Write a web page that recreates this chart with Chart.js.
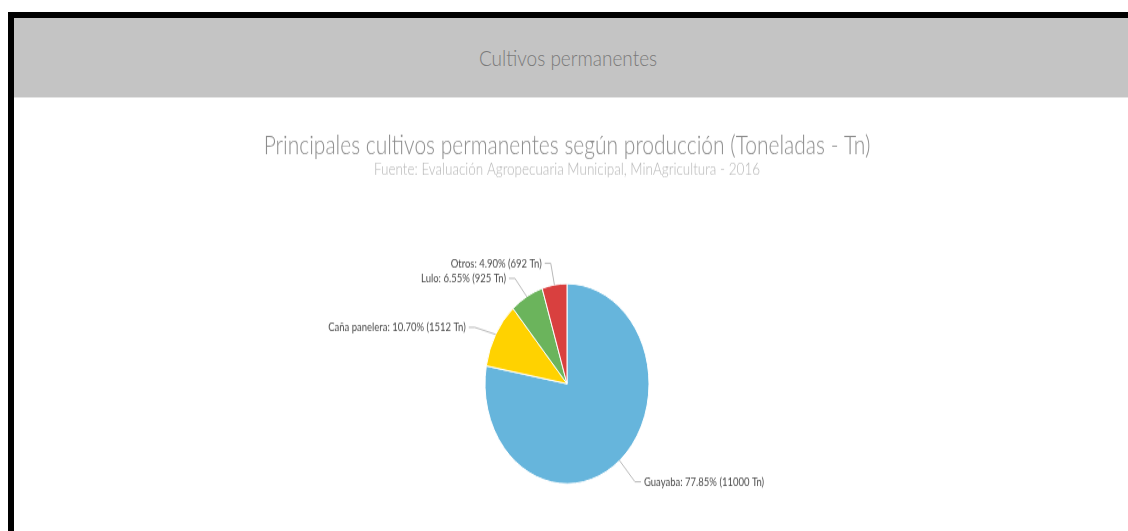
<!DOCTYPE html>
<html>
<head>
<meta charset="utf-8">
<script src="https://cdn.jsdelivr.net/npm/chart.js@4.4.1/dist/chart.umd.min.js"></script>
<style>
    body { margin: 0; background: #fff; width: 1128px; height: 531px; overflow: hidden; position: relative; }
    #frame { position: absolute; left: 8px; top: 12px; width: 1114px; height: 513px; border-left: 6px solid #000; border-top: 6px solid #000; background: #fff; }
    #header { height: 79px; background: #c4c4c4; color: #7a7a7a; font-family: Lato, "Open Sans", sans-serif; font-weight: 300;
              font-size: 19px; text-align: center; line-height: 79px; border-bottom: 1px solid #e4e4e4; }
    #header span { display: inline-block; transform: scaleY(1.12); position: relative; left: -3px; }
    #wrap { position: absolute; left: 0; top: 80px; width: 1114px; height: 356px; transform: scaleY(1.22); transform-origin: 0 0; }
</style>
</head>
<body>
<div id="frame">
    <div id="header"><span>Cultivos permanentes</span></div>
    <div id="wrap"><canvas id="grafic" width="1114" height="356"></canvas></div>
</div>
<script>
const categories = ['Guayaba', 'Caña panelera', 'Lulo', 'Otros'];
const tons = [11000, 1512, 925, 692];
const colors = ['#66b5dc', '#ffd200', '#6bb45c', '#d9403f'];

const total = tons.reduce((a, b) => a + b, 0);

// etiquetas afuera con linea, estilo highcharts
const outLabels = {
    id: 'outLabels',
    afterDatasetsDraw(chart) {
        const ctx = chart.ctx;
        const arcs = chart.getDatasetMeta(0).data;
        ctx.save();
        ctx.font = '9.5px Lato, "Open Sans", sans-serif';
        ctx.textBaseline = 'middle';
        arcs.forEach((arc, i) => {
            const p = arc.getProps(['x', 'y', 'startAngle', 'endAngle', 'outerRadius']);
            const mid = (p.startAngle + p.endAngle) / 2;
            const cos = Math.cos(mid), sin = Math.sin(mid);
            const x0 = p.x + cos * p.outerRadius, y0 = p.y + sin * p.outerRadius;
            const d = p.outerRadius + 24;
            const x1 = p.x + cos * d, y1 = p.y + sin * d + (cos < 0 && sin < 0 ? 6 : -1);
            const right = cos >= 0;
            const x2 = x1 + (right ? 6 : -6);
            ctx.strokeStyle = '#b8b8b8';
            ctx.lineWidth = 1;
            ctx.beginPath();
            ctx.moveTo(x0, y0);
            ctx.lineTo(x1, y1);
            ctx.lineTo(x2, y1);
            ctx.stroke();
            const pct = (tons[i] / total * 100).toFixed(2);
            const txt = categories[i] + ': ' + pct + '% (' + tons[i] + ' Tn)';
            ctx.fillStyle = '#4a4a4a';
            ctx.textAlign = right ? 'left' : 'right';
            ctx.fillText(txt, x2 + (right ? 3 : -3), y1);
        });
        ctx.restore();
    }
};

const data = {
    labels: categories,
    datasets: [{
        data: tons,
        backgroundColor: colors,
        borderColor: '#ffffff',
        borderWidth: 1,
        radius: 82
    }]
};

const config = {
    type: 'pie',
    data: data,
    options: {
        responsive: false,
        animation: false,
        layout: { padding: { top: 0, bottom: 40, left: 0, right: 8 } },
        plugins: {
            legend: { display: false },
            tooltip: { enabled: false },
            title: {
                display: true,
                text: 'Principales cultivos permanentes según producción (Toneladas - Tn)',
                color: '#8c8c8c',
                font: { family: 'Lato', size: 21, weight: 300 },
                padding: { top: 27, bottom: -2 }
            },
            subtitle: {
                display: true,
                text: 'Fuente: Evaluación Agropecuaria Municipal, MinAgricultura - 2016',
                color: '#b4b4b4',
                font: { family: 'Lato', size: 13.5, weight: 300 },
                padding: { top: 0, bottom: 86 }
            }
        }
    },
    plugins: [outLabels]
};

const grafica = new Chart(document.getElementById('grafic'), config);
</script>
</body>
</html>
